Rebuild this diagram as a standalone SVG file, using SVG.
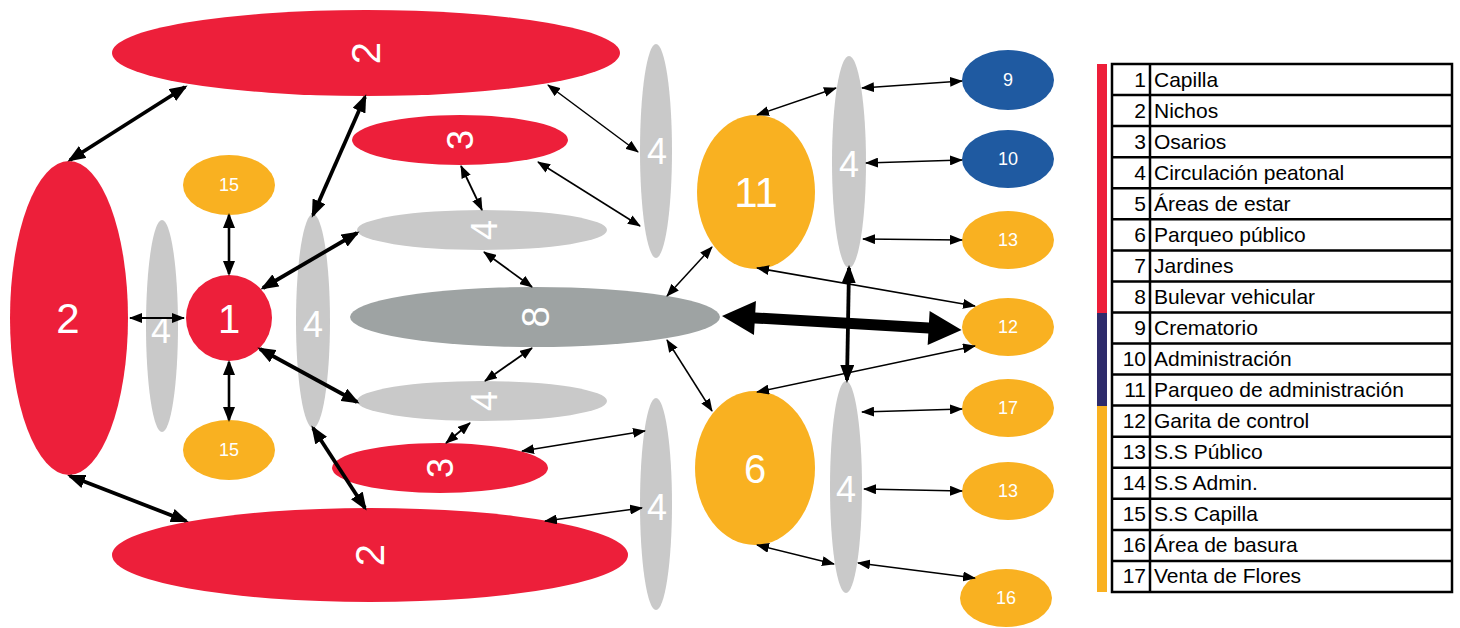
<svg xmlns="http://www.w3.org/2000/svg" width="1460" height="628" viewBox="0 0 1460 628">
<style>
.red{fill:#ED1F3A}.org{fill:#F9B121}.lg{fill:#C9C9C9}.dg{fill:#9EA3A3}.blu{fill:#1F5AA1}
.lbl{font-family:"Liberation Sans",Arial,sans-serif;fill:#fff;text-anchor:middle}
.big{font-size:40px}.sm{font-size:18px}
.c{stroke:#000;fill:none}
.tk{stroke-width:3.8;marker-start:url(#mT);marker-end:url(#mT)}
.md{stroke-width:2.6;marker-start:url(#mM);marker-end:url(#mM)}
.tn{stroke-width:1.5;marker-start:url(#mS);marker-end:url(#mS)}
.lt{font-family:"Liberation Sans",Arial,sans-serif;font-size:21px;fill:#000}
.num{text-anchor:end}
.grid{stroke:#000;stroke-width:2.5;fill:none}
</style>
<defs>
<marker id="mT" markerUnits="userSpaceOnUse" markerWidth="18" markerHeight="14" refX="15" refY="7" orient="auto-start-reverse"><path d="M0,0 L18,7 L0,14 z" fill="#000"/></marker>
<marker id="mM" markerUnits="userSpaceOnUse" markerWidth="15" markerHeight="12" refX="13" refY="6" orient="auto-start-reverse"><path d="M0,0 L15,6 L0,12 z" fill="#000"/></marker>
<marker id="mS" markerUnits="userSpaceOnUse" markerWidth="13" markerHeight="10" refX="12" refY="5" orient="auto-start-reverse"><path d="M0,0 L13,5 L0,10 z" fill="#000"/></marker>
</defs>
<rect width="1460" height="628" fill="#fff"/>

<g id="n2top"><ellipse class="red" cx="366" cy="53" rx="254" ry="43"/><text class="lbl big" transform="translate(366,53) rotate(-90)" dy="0.36em">2</text></g>
<g id="n2left"><ellipse class="red" cx="69" cy="318" rx="59" ry="157"/><text class="lbl" style="font-size:42px" x="68" y="333">2</text></g>
<g id="n4a"><ellipse class="lg" cx="162" cy="326" rx="16" ry="106"/><text class="lbl" style="font-size:36px" x="161" y="343">4</text></g>
<g id="n1"><ellipse class="red" cx="229" cy="318" rx="43" ry="43"/><text class="lbl" style="font-size:40px" x="229" y="333">1</text></g>
<g id="n15a"><ellipse class="org" cx="229" cy="185" rx="46" ry="30"/><text class="lbl sm" x="229" y="191">15</text></g>
<g id="n15b"><ellipse class="org" cx="229" cy="450" rx="46" ry="30"/><text class="lbl sm" x="229" y="456">15</text></g>
<g id="n4b"><ellipse class="lg" cx="313" cy="321" rx="17" ry="107"/><text class="lbl" style="font-size:36px" x="313" y="337">4</text></g>
<g id="n3top"><ellipse class="red" cx="460" cy="140" rx="108" ry="25"/><text class="lbl" style="font-size:36px" transform="translate(460,140) rotate(-90)" dy="0.36em">3</text></g>
<g id="n4h1"><ellipse class="lg" cx="482" cy="230" rx="125" ry="20"/><text class="lbl" style="font-size:36px" transform="translate(484,230) rotate(-90)" dy="0.36em">4</text></g>
<g id="n8"><ellipse class="dg" cx="535" cy="317" rx="185" ry="30"/><text class="lbl" style="font-size:38px" transform="translate(535,317) rotate(-90)" dy="0.36em">8</text></g>
<g id="n4h2"><ellipse class="lg" cx="482" cy="401" rx="125" ry="20"/><text class="lbl" style="font-size:36px" transform="translate(484,401) rotate(-90)" dy="0.36em">4</text></g>
<g id="n3bot"><ellipse class="red" cx="440" cy="468" rx="108" ry="25"/><text class="lbl" style="font-size:36px" transform="translate(440,468) rotate(-90)" dy="0.36em">3</text></g>
<g id="n2bot"><ellipse class="red" cx="370" cy="555" rx="258" ry="47"/><text class="lbl big" transform="translate(370,555) rotate(-90)" dy="0.36em">2</text></g>
<g id="n4c"><ellipse class="lg" cx="656" cy="151" rx="16" ry="107"/><text class="lbl" style="font-size:36px" x="657" y="164">4</text></g>
<g id="n4d"><ellipse class="lg" cx="656" cy="504" rx="16" ry="106"/><text class="lbl" style="font-size:36px" x="657" y="520">4</text></g>
<g id="n11"><ellipse class="org" cx="756" cy="192" rx="59" ry="77"/><text class="lbl" style="font-size:42px" x="756" y="207">11</text></g>
<g id="n6"><ellipse class="org" cx="755" cy="468" rx="60" ry="77"/><text class="lbl big" x="755" y="483">6</text></g>
<g id="n4e"><ellipse class="lg" cx="849" cy="162" rx="17" ry="106"/><text class="lbl" style="font-size:36px" x="849" y="177">4</text></g>
<g id="n4f"><ellipse class="lg" cx="846" cy="487" rx="16" ry="106"/><text class="lbl" style="font-size:36px" x="846" y="502">4</text></g>
<g id="n9"><ellipse class="blu" cx="1008" cy="80" rx="46" ry="30"/><text class="lbl sm" x="1008" y="86">9</text></g>
<g id="n10"><ellipse class="blu" cx="1008" cy="159" rx="46" ry="29"/><text class="lbl sm" x="1008" y="165">10</text></g>
<g id="n13a"><ellipse class="org" cx="1008" cy="240" rx="46" ry="29"/><text class="lbl sm" x="1008" y="246">13</text></g>
<g id="n12"><ellipse class="org" cx="1008" cy="327" rx="46" ry="29"/><text class="lbl sm" x="1008" y="333">12</text></g>
<g id="n17"><ellipse class="org" cx="1008" cy="408" rx="46" ry="29"/><text class="lbl sm" x="1008" y="414">17</text></g>
<g id="n13b"><ellipse class="org" cx="1008" cy="491" rx="46" ry="29"/><text class="lbl sm" x="1008" y="497">13</text></g>
<g id="n16"><ellipse class="org" cx="1006" cy="598" rx="46" ry="29"/><text class="lbl sm" x="1006" y="604">16</text></g>

<g id="connectors">
<line class="c tk" x1="185" y1="87" x2="70" y2="160"/>
<line class="c tk" x1="365" y1="97" x2="313" y2="215"/>
<line class="c tk" x1="263" y1="288" x2="357" y2="233"/>
<line class="c tk" x1="260" y1="349" x2="357" y2="402"/>
<line class="c tk" x1="313" y1="428" x2="365" y2="508"/>
<line class="c tk" x1="70" y1="476" x2="186" y2="521"/>
<line class="c tk" x1="849" y1="268" x2="847" y2="380"/>
<line class="c md" x1="229" y1="215" x2="229" y2="274"/>
<line class="c md" x1="229" y1="362" x2="229" y2="420"/>
<line class="c tn" x1="130" y1="318" x2="184" y2="318" style="stroke-width:1.8"/>
<line class="c tn" x1="461" y1="166" x2="482" y2="210" style="stroke-width:1.8"/>
<line class="c tn" x1="484" y1="252" x2="532" y2="287" style="stroke-width:1.8"/>
<line class="c tn" x1="532" y1="348" x2="485" y2="381" style="stroke-width:1.8"/>
<line class="c tn" x1="470" y1="423" x2="446" y2="443" style="stroke-width:1.8"/>
<line class="c tn" x1="548" y1="85" x2="638" y2="152"/>
<line class="c tn" x1="538" y1="162" x2="640" y2="226"/>
<line class="c tn" x1="522" y1="451" x2="645" y2="431"/>
<line class="c tn" x1="545" y1="521" x2="642" y2="508"/>
<line class="c tn" x1="667" y1="296" x2="712" y2="247"/>
<line class="c tn" x1="667" y1="340" x2="712" y2="411"/>
<line class="c tn" x1="757" y1="115" x2="836" y2="88"/>
<line class="c tn" x1="862" y1="88" x2="962" y2="81"/>
<line class="c tn" x1="866" y1="163" x2="962" y2="160"/>
<line class="c tn" x1="863" y1="239" x2="962" y2="240"/>
<line class="c tn" x1="757" y1="268" x2="975" y2="306"/>
<line class="c tn" x1="757" y1="392" x2="975" y2="346"/>
<line class="c tn" x1="862" y1="412" x2="962" y2="409"/>
<line class="c tn" x1="864" y1="489" x2="962" y2="491"/>
<line class="c tn" x1="757" y1="545" x2="834" y2="564"/>
<line class="c tn" x1="858" y1="563" x2="975" y2="578"/>
<path transform="translate(722,316) rotate(3.34)" d="M0,0 L33,-17 L33,-5.5 L207,-5.5 L207,-17 L240,0 L207,17 L207,5.5 L33,5.5 L33,17 z" fill="#000"/>
</g>

<g id="legend">
<rect x="1097" y="64" width="10" height="249" fill="#ED1F3A"/>
<rect x="1097" y="313" width="10" height="93" fill="#2E2B6B"/>
<rect x="1097" y="406" width="10" height="186" fill="#F9B121"/>
<rect class="grid" x="1112" y="64" width="340" height="528"/>
<line class="grid" x1="1150" y1="64" x2="1150" y2="592"/>
<path class="grid" d="M1112,95.1H1452M1112,126.1H1452M1112,157.2H1452M1112,188.2H1452M1112,219.3H1452M1112,250.4H1452M1112,281.4H1452M1112,312.5H1452M1112,343.5H1452M1112,374.6H1452M1112,405.6H1452M1112,436.7H1452M1112,467.8H1452M1112,498.8H1452M1112,529.9H1452M1112,560.9H1452"/>
<g class="lt">
<text class="num" x="1146" y="87">1</text><text x="1154" y="87">Capilla</text>
<text class="num" x="1146" y="118">2</text><text x="1154" y="118">Nichos</text>
<text class="num" x="1146" y="149">3</text><text x="1154" y="149">Osarios</text>
<text class="num" x="1146" y="180">4</text><text x="1154" y="180">Circulación peatonal</text>
<text class="num" x="1146" y="211">5</text><text x="1154" y="211">Áreas de estar</text>
<text class="num" x="1146" y="242">6</text><text x="1154" y="242">Parqueo público</text>
<text class="num" x="1146" y="273">7</text><text x="1154" y="273">Jardines</text>
<text class="num" x="1146" y="304">8</text><text x="1154" y="304">Bulevar vehicular</text>
<text class="num" x="1146" y="335">9</text><text x="1154" y="335">Crematorio</text>
<text class="num" x="1146" y="366">10</text><text x="1154" y="366">Administración</text>
<text class="num" x="1146" y="397">11</text><text x="1154" y="397">Parqueo de administración</text>
<text class="num" x="1146" y="428">12</text><text x="1154" y="428">Garita de control</text>
<text class="num" x="1146" y="459">13</text><text x="1154" y="459">S.S Público</text>
<text class="num" x="1146" y="490">14</text><text x="1154" y="490">S.S Admin.</text>
<text class="num" x="1146" y="521">15</text><text x="1154" y="521">S.S Capilla</text>
<text class="num" x="1146" y="552">16</text><text x="1154" y="552">Área de basura</text>
<text class="num" x="1146" y="583">17</text><text x="1154" y="583">Venta de Flores</text>
</g>
</g>
</svg>
